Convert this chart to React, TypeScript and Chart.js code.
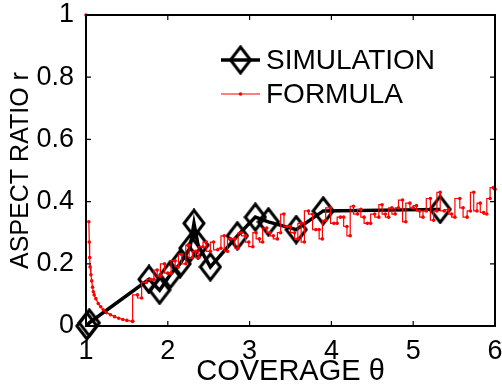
import React, { useEffect, useRef } from "react";
import { Chart, registerables } from "chart.js";

Chart.register(...registerables);

// ---- data ----
const xTicks = [1, 2, 3, 4, 5, 6];
const yTicks = [0, 0.2, 0.4, 0.6, 0.8, 1];

const simLabel = "SIMULATION";
const simX = [1.01, 1.04, 1.77, 1.9, 2.03, 2.15, 2.27, 2.32, 2.37, 2.52, 2.85, 3.07, 3.23, 3.57, 3.9, 5.33];
const simY = [0.0, 0.01, 0.15, 0.115, 0.165, 0.2, 0.25, 0.33, 0.26, 0.19, 0.29, 0.35, 0.335, 0.31, 0.37, 0.375];

const formulaLabel = "FORMULA";
const decayX = [1.0, 1.02, 1.035, 1.04, 1.045, 1.05, 1.06, 1.07, 1.08, 1.09, 1.1, 1.12, 1.15, 1.18, 1.21, 1.25, 1.3, 1.35, 1.4, 1.45, 1.5, 1.57];
const decayY = [1.0, null, 0.335, 0.27, 0.22, 0.19, 0.165, 0.145, 0.125, 0.11, 0.1, 0.088, 0.072, 0.062, 0.052, 0.043, 0.036, 0.03, 0.025, 0.021, 0.018, 0.015];

const formulaX = [1.57, 1.63, 1.68, 1.74, 1.79, 1.83, 1.87, 1.91, 1.96, 2.0, 2.04, 2.09, 2.13, 2.17, 2.22, 2.26, 2.3, 2.34, 2.38, 2.43, 2.47, 2.52, 2.56, 2.61, 2.65, 2.69, 2.73, 2.77, 2.82, 2.86, 2.9, 2.95, 2.99, 3.04, 3.08, 3.12, 3.16, 3.21, 3.25, 3.29, 3.34, 3.38, 3.42, 3.46, 3.5, 3.55, 3.59, 3.63, 3.67, 3.72, 3.77, 3.81, 3.85, 3.89, 3.93, 3.99, 4.03, 4.07, 4.11, 4.15, 4.19, 4.23, 4.27, 4.32, 4.36, 4.4, 4.44, 4.48, 4.53, 4.58, 4.62, 4.66, 4.7, 4.74, 4.78, 4.82, 4.87, 4.91, 4.96, 5.0, 5.04, 5.08, 5.12, 5.16, 5.21, 5.25, 5.29, 5.33, 5.38, 5.43, 5.47, 5.51, 5.57, 5.61, 5.66, 5.7, 5.74, 5.78, 5.82, 5.86, 5.9, 5.94, 5.98, 6.0];
const formulaY = [0.015, 0.1, 0.09, 0.14, 0.15, 0.15, 0.18, 0.16, 0.2, 0.17, 0.17, 0.21, 0.19, 0.23, 0.2, 0.26, 0.22, 0.24, 0.22, 0.255, 0.27, 0.24, 0.27, 0.245, 0.25, 0.29, 0.24, 0.28, 0.28, 0.25, 0.3, 0.29, 0.27, 0.255, 0.3, 0.28, 0.27, 0.315, 0.3, 0.29, 0.28, 0.3, 0.36, 0.32, 0.32, 0.3, 0.28, 0.33, 0.27, 0.37, 0.36, 0.31, 0.31, 0.28, 0.34, 0.38, 0.33, 0.33, 0.35, 0.35, 0.32, 0.29, 0.385, 0.36, 0.375, 0.35, 0.33, 0.33, 0.36, 0.35, 0.39, 0.36, 0.35, 0.38, 0.36, 0.38, 0.405, 0.335, 0.395, 0.38, 0.387, 0.37, 0.35, 0.37, 0.41, 0.34, 0.37, 0.43, 0.37, 0.374, 0.36, 0.35, 0.41, 0.38, 0.35, 0.37, 0.43, 0.37, 0.395, 0.365, 0.36, 0.41, 0.445, 0.44];

const xTitle = "COVERAGE θ";
const yTitle = "ASPECT RATIO r";

const FONT = "'Liberation Sans', Arial, Helvetica, sans-serif";

function makeDiamond(): HTMLCanvasElement {
  const c = document.createElement("canvas");
  c.width = 24;
  c.height = 30;
  const g = c.getContext("2d")!;
  g.strokeStyle = "#000";
  g.lineWidth = 3;
  g.lineJoin = "miter";
  g.beginPath();
  g.moveTo(12, 2);
  g.lineTo(22, 15);
  g.lineTo(12, 28);
  g.lineTo(2, 15);
  g.closePath();
  g.stroke();
  return c;
}

export default function App() {
  const ref = useRef<HTMLCanvasElement | null>(null);

  useEffect(() => {
    if (!ref.current) return;
    const diamond = makeDiamond();

    const pair = (xs: number[], ys: (number | null)[]) =>
      xs.slice(0, Math.min(xs.length, ys.length)).map((x, i) => ({ x, y: ys[i] }));

    const boxPlugin = {
      id: "matlabBox",
      afterDraw(chart: any) {
        const { ctx, chartArea } = chart;
        const { left, right, top, bottom } = chartArea;
        const xs = chart.scales.x;
        const ys = chart.scales.y;
        ctx.save();
        ctx.strokeStyle = "#000";
        ctx.lineWidth = 2;
        ctx.strokeRect(left, top, right - left, bottom - top);
        ctx.lineWidth = 1.2;
        const tl = 5;
        ctx.beginPath();
        xTicks.forEach((v) => {
          const px = xs.getPixelForValue(v);
          ctx.moveTo(px, bottom);
          ctx.lineTo(px, bottom - tl);
          ctx.moveTo(px, top);
          ctx.lineTo(px, top + tl);
        });
        yTicks.forEach((v) => {
          const py = ys.getPixelForValue(v);
          ctx.moveTo(left, py);
          ctx.lineTo(left + tl, py);
          ctx.moveTo(right, py);
          ctx.lineTo(right - tl, py);
        });
        ctx.stroke();

        // legend
        const lx0 = 221, lx1 = 260, tx = 266;
        const y1 = 60, y2 = 94;
        ctx.lineWidth = 3.5;
        ctx.strokeStyle = "#000";
        ctx.beginPath();
        ctx.moveTo(lx0, y1);
        ctx.lineTo(lx1, y1);
        ctx.stroke();
        ctx.drawImage(diamond, (lx0 + lx1) / 2 - diamond.width / 2, y1 - diamond.height / 2);
        ctx.lineWidth = 1.2;
        ctx.strokeStyle = "#ff0000";
        ctx.beginPath();
        ctx.moveTo(lx0, y2);
        ctx.lineTo(lx1, y2);
        ctx.stroke();
        ctx.fillStyle = "#ff0000";
        ctx.beginPath();
        ctx.arc((lx0 + lx1) / 2, y2, 1.8, 0, Math.PI * 2);
        ctx.fill();
        ctx.fillStyle = "#000";
        ctx.font = `28px ${FONT}`;
        ctx.textBaseline = "middle";
        ctx.textAlign = "left";
        ctx.fillText(simLabel, tx, y1 + 1);
        ctx.fillText(formulaLabel, tx, y2 + 1);
        ctx.restore();
      },
    };

    const chart = new Chart(ref.current, {
      type: "line",
      data: {
        datasets: [
          {
            label: formulaLabel,
            data: pair(formulaX, formulaY),
            borderColor: "#ff0000",
            backgroundColor: "#ff0000",
            borderWidth: 1.2,
            pointRadius: 1.8,
            pointBorderWidth: 0,
            pointBackgroundColor: "#ff0000",
            stepped: "after",
            fill: false,
            clip: false as any,
          },
          {
            label: formulaLabel + " ",
            data: pair(decayX, decayY) as any,
            borderColor: "#ff0000",
            backgroundColor: "#ff0000",
            borderWidth: 1.2,
            pointRadius: 1.8,
            pointBorderWidth: 0,
            pointBackgroundColor: "#ff0000",
            spanGaps: false,
            fill: false,
            clip: false as any,
          },
          {
            label: simLabel,
            data: pair(simX, simY),
            borderColor: "#000",
            borderWidth: 3.5,
            pointStyle: diamond as any,
            pointRadius: 10,
            fill: false,
            clip: false as any,
          },
        ],
      },
      options: {
        animation: false,
        responsive: false,
        maintainAspectRatio: false,
        events: [],
        layout: { autoPadding: false, padding: { top: 15, right: 7, left: 0, bottom: 0 } },
        plugins: {
          legend: { display: false },
          tooltip: { enabled: false },
        },
        scales: {
          x: {
            type: "linear",
            min: 1,
            max: 6,
            afterBuildTicks: (s: any) => {
              s.ticks = xTicks.map((v) => ({ value: v }));
            },
            afterFit: (s: any) => {
              s.height = 66;
              s.paddingLeft = 0;
              s.paddingRight = 0;
            },
            grid: { display: false },
            border: { display: false },
            ticks: {
              color: "#000",
              padding: 1,
              font: { family: FONT, size: 27 },
              maxRotation: 0,
              callback: (v: any) => String(v),
            },
            title: {
              display: true,
              text: xTitle,
              color: "#000",
              font: { family: FONT, size: 29 },
              padding: { top: 0, bottom: 3 },
            },
          },
          y: {
            type: "linear",
            min: 0,
            max: 1,
            afterBuildTicks: (s: any) => {
              s.ticks = yTicks.map((v) => ({ value: v }));
            },
            afterFit: (s: any) => {
              s.width = 86;
              s.paddingTop = 0;
              s.paddingBottom = 0;
            },
            grid: { display: false },
            border: { display: false },
            ticks: {
              color: "#000",
              padding: 4,
              font: { family: FONT, size: 27 },
              callback: (v: any) => String(v),
            },
            title: {
              display: true,
              text: yTitle,
              color: "#000",
              font: { family: FONT, size: 25 },
              padding: { top: 6, bottom: 0 },
            },
          },
        },
      },
      plugins: [boxPlugin],
    });
    return () => chart.destroy();
  }, []);

  return (
    <div style={{ position: "fixed", left: 0, top: 0, width: 502, height: 392, background: "#fff" }}>
      <canvas ref={ref} width={502} height={392} style={{ width: 502, height: 392, display: "block" }} />
    </div>
  );
}
